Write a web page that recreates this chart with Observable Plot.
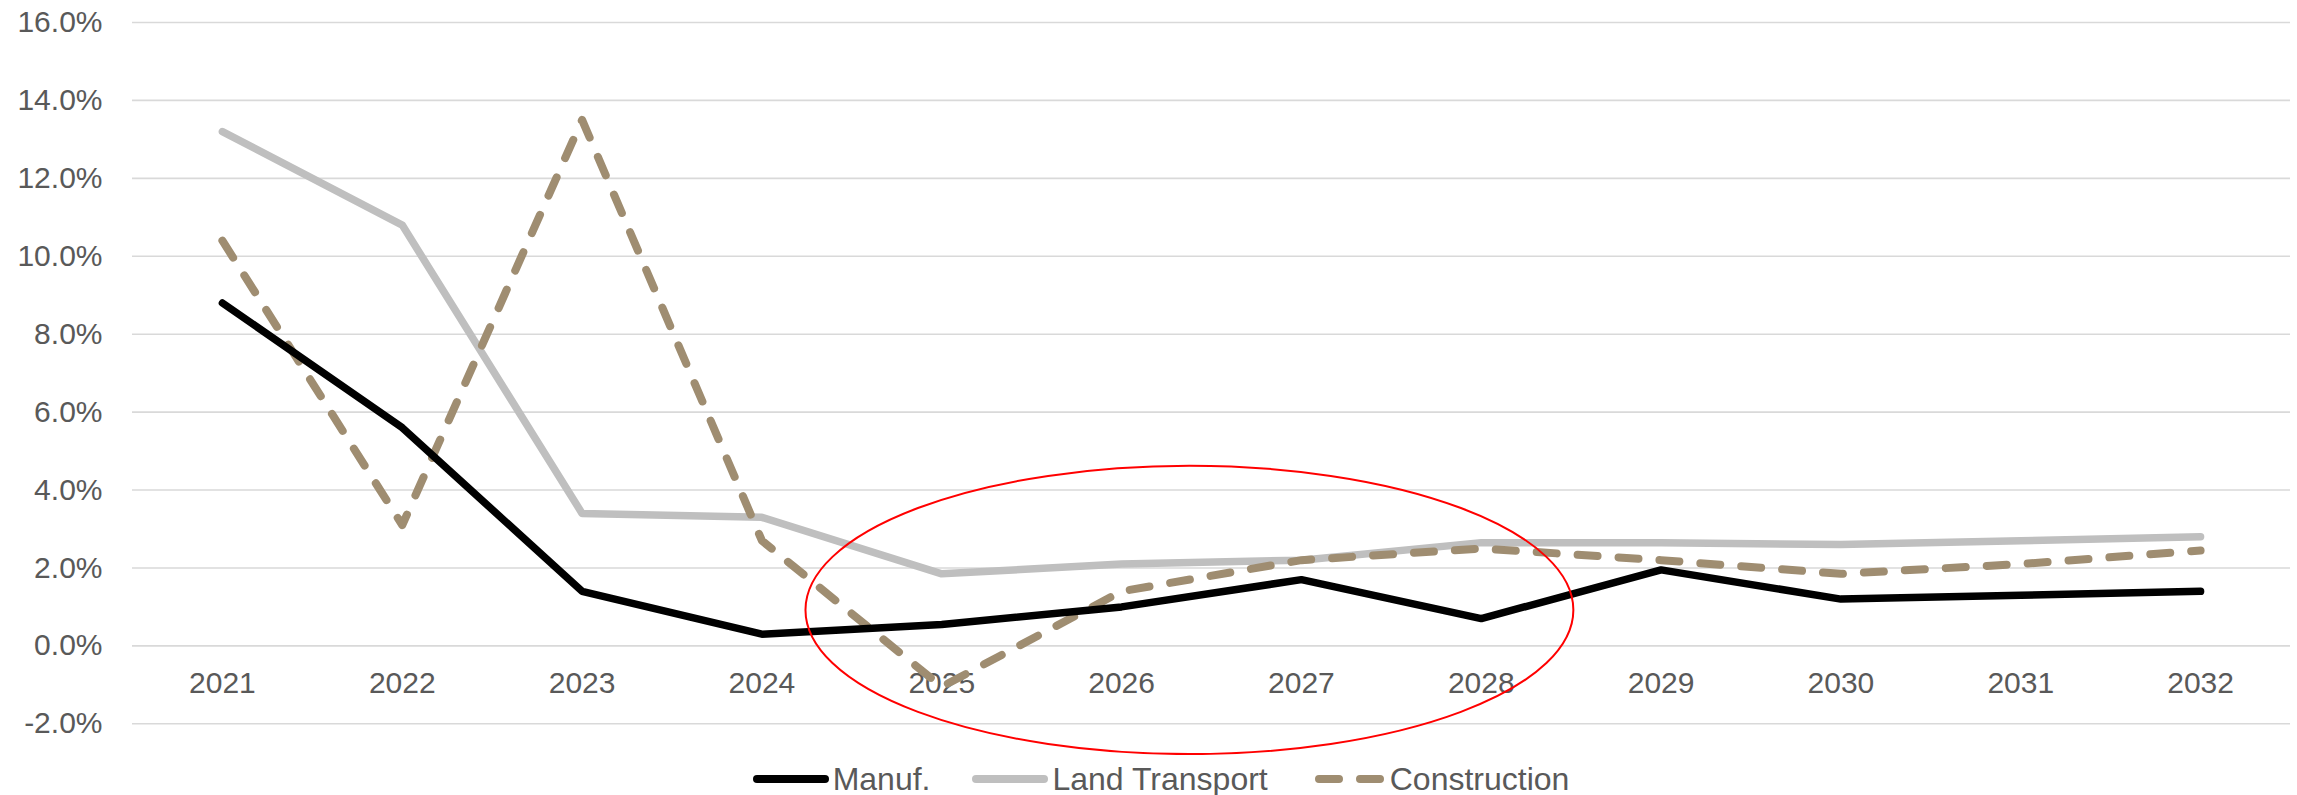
<!DOCTYPE html>
<html>
<head>
<meta charset="utf-8">
<script src="https://cdn.jsdelivr.net/npm/d3@7"></script>
<script src="https://cdn.jsdelivr.net/npm/@observablehq/plot@0.6"></script>
<style>
  html, body { margin: 0; padding: 0; background: #ffffff; overflow: hidden; }
  #chart svg { display: block; }
  #legend {
    display: flex; justify-content: center; align-items: center;
    height: 48px; margin-left: 25px;
    font-family: "Liberation Sans", Arial, sans-serif; font-size: 32px; color: #595959;
  }
  #legend .item { display: flex; align-items: center; margin: 0 21px; }
  #legend svg { margin-right: 4px; }
</style>
</head>
<body>
<div id="chart"></div>
<div id="legend"></div>
<script>
// Annual growth rates by sector, 2021–2032
const years = [2021, 2022, 2023, 2024, 2025, 2026, 2027, 2028, 2029, 2030, 2031, 2032];
const manuf = [8.8, 5.6, 1.4, 0.3, 0.55, 1.0, 1.7, 0.7, 1.95, 1.2, 1.3, 1.4];
const landTransport = [13.2, 10.8, 3.4, 3.3, 1.85, 2.1, 2.2, 2.65, 2.65, 2.6, 2.7, 2.8];
const construction = [10.4, 3.1, 13.5, 2.7, -1.05, 1.4, 2.2, 2.5, 2.2, 1.85, 2.1, 2.45];
const yTicks = [-2, 0, 2, 4, 6, 8, 10, 12, 14, 16];

const seriesNames = ["Manuf.", "Land Transport", "Construction"];
const seriesColors = ["#000000", "#bfbfbf", "#9f8d71"];

// Highlighted 2025–2028 period (centre year, centre value, radii in years / points)
const highlight = {year: 2026.38, value: 0.91, rYears: 2.135, rValue: 3.7};

const rows = (vals) => years.map((year, i) => ({year, value: vals[i]}));

const font = '"Liberation Sans", Arial, sans-serif';

const lineCommon = {x: "year", y: "value", strokeWidth: 7.5, strokeLinecap: "round", strokeLinejoin: "round"};

const chart = Plot.plot({
  width: 2297,
  height: 755,
  marginTop: 22,
  marginBottom: 31.7,
  marginLeft: 132,
  marginRight: 7,
  style: {fontFamily: font, fontSize: "30px", color: "#595959", background: "#ffffff"},
  x: {domain: [2020.5, 2032.5], axis: null},
  y: {domain: [-2, 16], label: null},
  marks: [
    Plot.ruleY(yTicks, {stroke: "#d9d9d9", strokeWidth: 1.6}),
    Plot.axisY(yTicks, {
      tickSize: 0, tickPadding: 30, label: null, fontSize: 30,
      tickFormat: (d) => d.toFixed(1) + "%", fill: "#595959"
    }),
    Plot.text(years, {
      x: (d) => d, y: 0, text: (d) => String(d), dy: 38,
      fontSize: 30, fill: "#595959", lineAnchor: "middle"
    }),
    Plot.line(rows(landTransport), {...lineCommon, stroke: seriesColors[1]}),
    Plot.line(rows(construction), {...lineCommon, stroke: seriesColors[2], strokeWidth: 8, strokeDasharray: "20,21"}),
    Plot.line(rows(manuf), {...lineCommon, stroke: seriesColors[0]}),
    // red ellipse around the 2025–2028 period
    (index, scales) => {
      const {x, y} = scales;
      const cx = x(highlight.year), cy = y(highlight.value);
      const rx = Math.abs(x(highlight.year + highlight.rYears) - cx);
      const ry = Math.abs(y(highlight.value + highlight.rValue) - cy);
      const el = document.createElementNS("http://www.w3.org/2000/svg", "ellipse");
      el.setAttribute("cx", cx); el.setAttribute("cy", cy);
      el.setAttribute("rx", rx); el.setAttribute("ry", ry);
      el.setAttribute("fill", "none"); el.setAttribute("stroke", "#ff0000");
      el.setAttribute("stroke-width", 2);
      return el;
    }
  ]
});
document.getElementById("chart").appendChild(chart);

// Legend with line swatches
const legend = document.getElementById("legend");
seriesNames.forEach((name, i) => {
  const item = document.createElement("div");
  item.className = "item";
  const sw = d3.create("svg").attr("width", 76).attr("height", 12);
  const l = sw.append("line").attr("x1", 4).attr("x2", 72).attr("y1", 6).attr("y2", 6)
    .attr("stroke", seriesColors[i]).attr("stroke-width", 8).attr("stroke-linecap", "round");
  if (i === 2) l.attr("stroke-dasharray", "20,21").attr("x1", 9).attr("x2", 70);
  item.appendChild(sw.node());
  const label = document.createElement("span");
  label.textContent = name;
  item.appendChild(label);
  legend.appendChild(item);
});
</script>
</body>
</html>
